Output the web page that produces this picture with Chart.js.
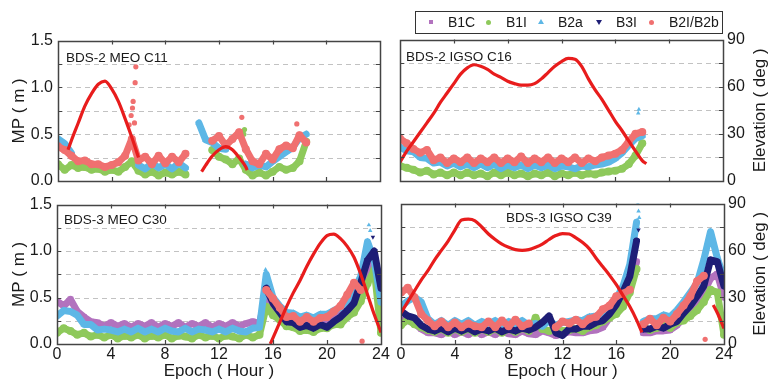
<!DOCTYPE html>
<html>
<head>
<meta charset="UTF-8">
<title>BDS multipath (MP) and elevation</title>
<script src="https://cdn.jsdelivr.net/npm/chart.js"></script>
<style>
  body { margin: 0; background: #fff; font-family: "Liberation Sans", Arial, sans-serif; }
  #wrap { position: relative; width: 770px; height: 382px; overflow: hidden; }
  #wrap canvas { position: absolute; }
  .legend { position: absolute; left: 415px; top: 11px; width: 306px; height: 21px; border: 1px solid #333; color: #1a1a1a; font-size: 14px; }
  .legend span { position: absolute; }
  .legend .lb { top: 2px; line-height: 17px; }
  .mk { top: 8px; }
  .sq { width: 4px; height: 4px; }
  .dot { width: 5px; height: 5px; border-radius: 50%; }
  .up { width: 0; height: 0; border-left: 3px solid transparent; border-right: 3px solid transparent; border-bottom: 5px solid; }
  .down { width: 0; height: 0; border-left: 3px solid transparent; border-right: 3px solid transparent; border-top: 5px solid; }
</style>
</head>
<body>
<div id="wrap">
  <canvas id="c11" width="392" height="170" style="left:0;top:26px"></canvas>
  <canvas id="c16" width="382" height="170" style="left:388px;top:26px"></canvas>
  <canvas id="c30" width="392" height="192" style="left:0;top:190px"></canvas>
  <canvas id="c39" width="382" height="192" style="left:388px;top:190px"></canvas>
  <div class="legend">
    <span class="mk sq" style="left:13px;background:#b272be"></span><span class="lb" style="left:32px">B1C</span>
    <span class="mk dot" style="left:70px;background:#8ec95b"></span><span class="lb" style="left:90px">B1I</span>
    <span class="mk up" style="left:122px;top:7px;border-bottom-color:#5db7e6"></span><span class="lb" style="left:142px">B2a</span>
    <span class="mk down" style="left:180px;top:8px;border-top-color:#1e1e76"></span><span class="lb" style="left:200px">B3I</span>
    <span class="mk dot" style="left:233px;background:#f07070"></span><span class="lb" style="left:253px">B2I/B2b</span>
  </div>
</div>
<script>
// epochs (hours), one sample every half hour
const hours = [0,0.5,1,1.5,2,2.5,3,3.5,4,4.5,5,5.5,6,6.5,7,7.5,8,8.5,9,9.5,10,10.5,11,11.5,12,12.5,13,13.5,14,14.5,15,15.5,16,16.5,17,17.5,18,18.5,19,19.5,20,20.5,21,21.5,22,22.5,23,23.5,24];
// C39 has a short outage at 17.75 h
const hoursC39 = [0,0.5,1,1.5,2,2.5,3,3.5,4,4.5,5,5.5,6,6.5,7,7.5,8,8.5,9,9.5,10,10.5,11,11.5,12,12.5,13,13.5,14,14.5,15,15.5,16,16.5,17,17.5,17.75,18,18.5,19,19.5,20,20.5,21,21.5,22,22.5,23,23.5,24];

const seriesNames = ['B1C', 'B1I', 'B2a', 'B3I', 'B2I/B2b'];
const seriesColors = ['#b272be', '#8ec95b', '#5db7e6', '#1e1e76', '#f07070'];
const seriesStyles = ['rect', 'circle', 'triangle', 'triangle', 'circle'];
const seriesRotation = [0, 0, 0, 180, 0];

// MP (m) -- BDS-2 MEO C11
const c11_B1I = [0.18,0.12,0.17,0.14,0.15,0.12,0.13,0.10,0.12,0.10,0.15,0.21,0.11,0.07,0.10,0.06,0.09,0.07,0.10,0.07,null,null,null,0.33,0.26,0.23,0.18,0.24,0.12,0.06,0.09,0.06,0.10,0.15,0.12,0.14,0.21,0.42,null,null,null,null,null,null,null,null,null,null,null];
const c11_B2a = [0.45,0.40,0.30,null,null,null,null,null,null,null,null,null,0.17,0.13,0.19,0.14,0.18,0.13,0.19,0.14,null,0.62,0.44,0.41,0.35,0.34,null,null,0.18,0.14,0.17,0.15,0.21,0.26,0.31,0.36,0.46,0.50,null,null,null,null,null,null,null,null,null,null,null];
const c11_B2b = [0.37,0.33,0.27,0.21,0.22,0.18,0.18,0.15,0.17,0.20,0.27,0.45,0.22,0.26,0.18,0.27,0.19,0.26,0.20,0.29,null,null,null,0.43,0.48,0.38,0.45,0.52,0.34,0.21,0.18,0.29,0.23,0.34,0.38,0.35,0.49,0.41,null,null,null,null,null,null,null,null,null,null,null];
const c11_B2bOutHours = [5.3,5.45,5.55,5.6,5.7,5.75,5.8,13.7,17.8];
const c11_B2bOut = [0.60,0.70,0.78,0.85,0.62,1.05,1.22,0.68,0.61];
const c11_B1IOutHours = [13.85,13.9];
const c11_B1IOut = [0.50,0.55];
const c11_elevHours = [0.75,1,1.5,2,2.5,3,3.5,4,4.5,5,5.5,6,8,10.7,11,11.5,12,12.5,13,13.5,14,14.1];
const c11_elev = [20,26,37,48,56,62,64,59,51,40,28,15,null,6,10,16,20,22,20,15,9,7];

// MP (m) -- BDS-2 IGSO C16
const c16_B1I = [0.16,0.14,0.12,0.09,0.11,0.07,0.09,0.06,0.09,0.06,0.09,0.06,0.08,0.05,0.09,0.06,0.09,0.06,0.08,0.05,0.08,0.06,0.09,0.05,0.08,0.06,0.09,0.06,0.08,0.07,0.09,0.10,0.11,0.13,0.18,0.27,0.40,null,null,null,null,null,null,null,null,null,null,null,null];
const c16_B2a = [0.36,0.32,0.31,0.25,0.24,0.19,0.20,0.16,0.19,0.15,0.18,0.14,0.18,0.14,0.18,0.13,0.17,0.14,0.17,0.13,0.17,0.14,0.17,0.13,0.16,0.15,0.13,0.16,0.15,0.17,0.18,0.20,0.24,0.30,0.38,0.45,0.48,null,null,null,null,null,null,null,null,null,null,null,null];
const c16_B2b = [0.45,0.40,0.34,0.30,0.33,0.22,0.25,0.19,0.24,0.20,0.25,0.19,0.24,0.20,0.25,0.19,0.24,0.20,0.26,0.19,0.24,0.20,0.25,0.19,0.24,0.20,0.25,0.19,0.24,0.21,0.25,0.27,0.29,0.33,0.42,0.50,0.52,null,null,null,null,null,null,null,null,null,null,null,null];
const c16_B2aOutHours = [17.7,17.75];
const c16_B2aOut = [0.72,0.76];
const c16_elevHours = [0,0.5,1,1.5,2,2.5,3,3.5,4,4.5,5,5.5,6,6.5,7,7.5,8,8.5,9,9.5,10,10.5,11,11.5,12,12.5,13,13.5,14,14.5,15,15.5,16,16.5,17,17.5,18,18.3];
const c16_elev = [12,19,25,31,37,43,50,56,62,68,72,74,73,71,68,66,63.5,62,61,61,62,65,69,73,76,78,77.5,73,65,58,52,45,38,32,25.5,19,13,11];

// MP (m) -- BDS-3 MEO C30
const c30_B1C = [0.46,0.41,0.48,0.35,0.29,0.24,0.23,0.19,0.23,0.19,0.22,0.18,0.22,0.19,0.23,0.18,0.22,0.19,0.23,0.18,0.22,0.19,0.23,0.18,0.22,0.19,0.23,0.19,0.22,0.24,0.22,0.55,0.42,0.33,0.27,0.26,0.23,0.23,0.21,0.25,0.25,0.31,0.33,0.39,0.45,0.55,0.75,0.90,0.40];
const c30_B1I = [0.12,0.17,0.14,0.10,0.12,0.08,0.10,0.07,0.10,0.06,0.09,0.07,0.10,0.06,0.09,0.07,0.10,0.06,0.09,0.08,0.06,0.10,0.07,0.09,0.06,0.09,0.08,0.06,0.10,0.07,0.10,0.40,0.31,0.26,0.19,0.18,0.14,0.15,0.13,0.17,0.17,0.21,0.21,0.29,0.34,0.46,0.65,0.80,0.12];
const c30_B2a = [0.30,0.36,0.35,0.31,0.21,0.21,0.15,0.16,0.15,0.13,0.16,0.13,0.17,0.13,0.16,0.13,0.17,0.14,0.13,0.17,0.13,0.16,0.15,0.13,0.16,0.13,0.17,0.14,0.13,0.17,0.18,0.75,0.50,0.41,0.34,0.33,0.29,0.31,0.28,0.32,0.32,0.36,0.39,0.47,0.58,0.73,1.10,0.90,0.45];
const c30_B3I = [null,null,null,null,null,null,null,null,null,null,null,null,null,null,null,null,null,null,null,null,null,null,null,null,null,null,null,null,null,null,null,0.60,0.44,0.34,0.24,0.23,0.18,0.20,0.17,0.21,0.18,0.24,0.29,0.36,0.44,0.66,0.90,1.00,0.60];
const c30_B2b = [null,null,null,null,null,null,null,null,null,null,null,null,null,null,null,null,null,null,null,null,null,null,null,null,null,null,null,null,null,null,null,0.58,0.49,0.39,0.29,0.30,0.24,0.29,0.24,0.28,0.29,0.35,0.41,0.53,0.66,0.58,null,null,null];
const c30_B2aOutHours = [15.45,23.1,23.2];
const c30_B2aOut = [0.80,1.28,1.22];
const c30_B3IOutHours = [23.4];
const c30_B3IOut = [1.15];
const c30_B2bOutHours = [22.6];
const c30_B2bOut = [0.03];
const c30_elevHours = [15.8,16,16.5,17,17.5,18,18.5,19,19.5,20,20.5,21,21.5,22,22.5,23,23.5,24];
const c30_elev = [0,4,14,24,33,41,50,58,65,70,71,68,63,56,45,32,19,7.5];

// MP (m) -- BDS-3 IGSO C39
const c39_B1C = [0.25,0.25,0.22,0.16,0.12,0.12,0.10,0.14,0.10,0.13,0.10,0.14,0.10,0.13,0.10,0.14,0.11,0.10,0.14,0.11,0.10,0.14,0.12,0.09,0.11,0.13,0.12,0.12,0.14,0.15,0.18,0.28,0.36,0.48,0.62,0.88,null,0.12,0.12,0.14,0.14,0.15,0.20,0.28,0.35,0.45,0.55,0.70,0.75,0.50];
const c39_B1I = [0.20,0.26,0.21,0.18,0.15,0.13,0.16,0.12,0.16,0.13,0.16,0.12,0.16,0.13,0.16,0.12,0.16,0.13,0.17,0.14,0.28,0.16,0.14,0.15,0.14,0.15,0.16,0.14,0.18,0.20,0.24,0.28,0.32,0.40,0.55,0.80,null,0.18,0.15,0.17,0.20,0.17,0.23,0.25,0.30,0.36,0.45,0.58,0.55,0.10];
const c39_B2a = [0.40,0.46,0.50,0.45,0.27,0.21,0.25,0.20,0.25,0.21,0.25,0.20,0.24,0.21,0.25,0.20,0.24,0.21,0.25,0.20,0.22,0.19,0.25,0.20,0.23,0.24,0.26,0.25,0.29,0.30,0.33,0.38,0.48,0.62,0.85,1.30,null,0.24,0.27,0.27,0.31,0.29,0.36,0.45,0.55,0.65,0.90,1.20,0.92,0.70];
const c39_B3I = [0.35,0.30,0.28,0.20,0.16,0.14,0.17,0.13,0.17,0.14,0.17,0.13,0.16,0.14,0.17,0.13,0.16,0.14,0.17,0.15,0.18,0.23,0.30,0.12,0.09,0.16,0.16,0.19,0.19,0.23,0.25,0.32,0.42,0.56,0.72,1.10,null,0.16,0.16,0.19,0.17,0.21,0.24,0.33,0.41,0.51,0.62,0.90,0.88,0.62];
const c39_B2b = [0.55,0.60,0.50,0.32,0.25,0.19,0.24,0.18,0.23,0.18,0.22,0.19,0.18,0.24,0.18,0.25,0.19,0.26,0.19,0.22,null,null,null,0.18,0.24,0.22,0.26,0.21,0.27,0.29,0.37,0.41,0.51,0.54,0.58,null,null,0.21,0.27,0.20,0.28,0.24,0.32,0.41,0.51,0.67,0.73,null,null,null];
const c39_B2aOutHours = [17.6,17.65,17.7];
const c39_B2aOut = [1.50,1.42,1.35];
const c39_B3IOutHours = [17.65];
const c39_B3IOut = [1.22];
const c39_B2bOutHours = [22.6];
const c39_B2bOut = [0.05];
const c39_elevHours = [0,0.5,1,1.5,2,2.5,3,3.5,4,4.5,5,5.5,6,6.5,7,7.5,8,8.5,9,9.5,10,10.5,11,11.5,12,12.5,13,13.5,14,14.5,15,15.5,16,16.5,17,17.5,17.9,20,23.2,23.5,24];
const c39_elev = [20,27,34,41,47,54,60,66,73,79.5,80,79,75,70.5,67,64,62,60.5,60,60.5,62,64,67,69.5,70.8,70.5,68,65,61,55,49.5,44,38,31,24,15.5,7.4,null,25,20,10];

Chart.defaults.font.family = "'Liberation Sans', Arial, sans-serif";
Chart.defaults.color = '#1a1a1a';

function pts(xs, ys) {
  return xs.map((x, k) => ({ x: x, y: ys[k] }));
}

function band(i, xs, ys) {
  return {
    label: seriesNames[i], data: pts(xs, ys), yAxisID: 'y',
    borderColor: seriesColors[i], backgroundColor: seriesColors[i],
    borderWidth: 7, borderJoinStyle: 'round', borderCapStyle: 'round',
    pointRadius: 4, pointStyle: seriesStyles[i], pointRotation: seriesRotation[i], pointBorderWidth: 0,
    tension: 0, spanGaps: false, clip: 0, order: 5 - i
  };
}

function spikes(i, xs, ys) {
  return {
    label: seriesNames[i], data: pts(xs, ys), yAxisID: 'y', showLine: false,
    borderColor: seriesColors[i], backgroundColor: seriesColors[i],
    pointRadius: 2.6, pointStyle: seriesStyles[i], pointRotation: seriesRotation[i], pointBorderWidth: 0,
    clip: 0, order: 5 - i
  };
}

function elevation(xs, ys) {
  return {
    label: 'Elevation', data: pts(xs, ys), yAxisID: 'y2',
    borderColor: '#e81c1c', borderWidth: 3.2, pointRadius: 0,
    cubicInterpolationMode: 'monotone', spanGaps: false, clip: 0, order: 0
  };
}

// frame, inward ticks, dashed grid and panel captions
const panelDecor = {
  id: 'panelDecor',
  beforeDatasetsDraw(chart) {
    const { ctx, chartArea: a, scales } = chart;
    ctx.save();
    ctx.strokeStyle = '#c2c2c2';
    ctx.lineWidth = 1;
    ctx.setLineDash([5, 4]);
    scales.y.ticks.forEach(t => {
      if (t.value <= 0 || t.value >= 1.5) return;
      const y = Math.round(scales.y.getPixelForValue(t.value)) + 0.5;
      ctx.beginPath(); ctx.moveTo(a.left, y); ctx.lineTo(a.right, y); ctx.stroke();
    });
    ctx.restore();
  },
  afterDraw(chart, args, o) {
    const { ctx, chartArea: a, scales } = chart;
    ctx.save();
    ctx.strokeStyle = '#444';
    ctx.lineWidth = 1.2;
    scales.x.ticks.forEach(t => {
      if (t.value <= 0 || t.value >= 24) return;
      const x = Math.round(scales.x.getPixelForValue(t.value)) + 0.5;
      ctx.beginPath();
      ctx.moveTo(x, a.top); ctx.lineTo(x, a.top + 4);
      ctx.moveTo(x, a.bottom); ctx.lineTo(x, a.bottom - 4);
      ctx.stroke();
    });
    scales.y.ticks.forEach(t => {
      if (t.value <= 0 || t.value >= 1.5) return;
      const y = Math.round(scales.y.getPixelForValue(t.value)) + 0.5;
      ctx.beginPath();
      ctx.moveTo(a.left, y); ctx.lineTo(a.left + 4, y);
      ctx.moveTo(a.right, y); ctx.lineTo(a.right - 4, y);
      ctx.stroke();
    });
    ctx.lineWidth = 1.5;
    ctx.strokeRect(Math.round(a.left) + 0.5, Math.round(a.top) + 0.5, Math.round(a.right - a.left), Math.round(a.bottom - a.top));
    ctx.fillStyle = '#1a1a1a';
    ctx.font = "13.5px 'Liberation Sans', Arial, sans-serif";
    ctx.textBaseline = 'middle';
    ctx.textAlign = 'left';
    ctx.fillText(o.title, a.left + o.tx, a.top + o.ty);
    if (o.rightTitle) {
      ctx.font = "17px 'Liberation Sans', Arial, sans-serif";
      ctx.textAlign = 'center';
      ctx.translate(o.rightX, (a.top + a.bottom) / 2);
      ctx.rotate(-Math.PI / 2);
      ctx.fillText('Elevation ( deg )', 0, 0);
    }
    ctx.restore();
  }
};

function makePanel(id, p) {
  const tickFont = { size: 16 };
  new Chart(document.getElementById(id), {
    type: 'line',
    data: { datasets: p.datasets },
    plugins: [panelDecor],
    options: {
      responsive: false, animation: false, devicePixelRatio: 1,
      layout: { padding: { top: 10, left: 0, right: 0, bottom: 0 } },
      plugins: {
        legend: { display: false }, tooltip: { enabled: false },
        panelDecor: { title: p.title, tx: p.tx, ty: p.ty, rightTitle: p.right, rightX: p.rightX }
      },
      scales: {
        x: {
          type: 'linear', min: 0, max: 24,
          ticks: { stepSize: 4, display: p.bottom, font: tickFont, padding: 1, maxRotation: 0 },
          grid: { display: false, drawTicks: false }, border: { display: false },
          title: { display: p.bottom, text: 'Epoch ( Hour )', font: { size: 17 }, padding: { top: 0, bottom: 0 } },
          afterFit: s => { s.height = p.xh; }
        },
        y: {
          position: 'left', min: 0, max: 1.5,
          ticks: {
            stepSize: 0.25, display: !p.right, font: tickFont, padding: 5,
            callback: v => Math.abs(v * 2 - Math.round(v * 2)) < 1e-6 ? v.toFixed(1) : ''
          },
          grid: { display: false, drawTicks: false }, border: { display: false },
          title: { display: !p.right, text: 'MP ( m )', font: { size: 17 }, padding: { top: 9, bottom: 0 } },
          afterFit: s => { s.width = p.lw; }
        },
        y2: {
          position: 'right', min: 0, max: 90,
          ticks: { stepSize: 15, display: p.right, font: tickFont, padding: 4, callback: v => v % 30 === 0 ? v : '' },
          grid: { display: false, drawTicks: false }, border: { display: false },
          afterFit: s => { s.width = p.rw; }
        }
      }
    }
  });
}

makePanel('c11', {
  title: 'BDS-2 MEO C11', tx: 8, ty: 18, right: false, bottom: false, lw: 58, rw: 12, xh: 15,
  datasets: [
    band(1, hours, c11_B1I), band(2, hours, c11_B2a), band(4, hours, c11_B2b),
    spikes(4, c11_B2bOutHours, c11_B2bOut), spikes(1, c11_B1IOutHours, c11_B1IOut),
    elevation(c11_elevHours, c11_elev)
  ]
});

makePanel('c16', {
  title: 'BDS-2 IGSO C16', tx: 6, ty: 18, right: true, rightX: 372, bottom: false, lw: 12, rw: 47, xh: 15,
  datasets: [
    band(1, hours, c16_B1I), band(2, hours, c16_B2a), band(4, hours, c16_B2b),
    spikes(2, c16_B2aOutHours, c16_B2aOut),
    elevation(c16_elevHours, c16_elev)
  ]
});

makePanel('c30', {
  title: 'BDS-3 MEO C30', tx: 7, ty: 16, right: false, bottom: true, lw: 57, rw: 11, xh: 38,
  datasets: [
    band(0, hours, c30_B1C), band(1, hours, c30_B1I), band(2, hours, c30_B2a), band(3, hours, c30_B3I), band(4, hours, c30_B2b),
    spikes(2, c30_B2aOutHours, c30_B2aOut), spikes(3, c30_B3IOutHours, c30_B3IOut), spikes(4, c30_B2bOutHours, c30_B2bOut),
    elevation(c30_elevHours, c30_elev)
  ]
});

makePanel('c39', {
  title: 'BDS-3 IGSO C39', tx: 105, ty: 15, right: true, rightX: 372, bottom: true, lw: 13, rw: 46, xh: 38,
  datasets: [
    band(0, hoursC39, c39_B1C), band(1, hoursC39, c39_B1I), band(2, hoursC39, c39_B2a), band(3, hoursC39, c39_B3I), band(4, hoursC39, c39_B2b),
    spikes(2, c39_B2aOutHours, c39_B2aOut), spikes(3, c39_B3IOutHours, c39_B3IOut), spikes(4, c39_B2bOutHours, c39_B2bOut),
    elevation(c39_elevHours, c39_elev)
  ]
});
</script>
</body>
</html>
